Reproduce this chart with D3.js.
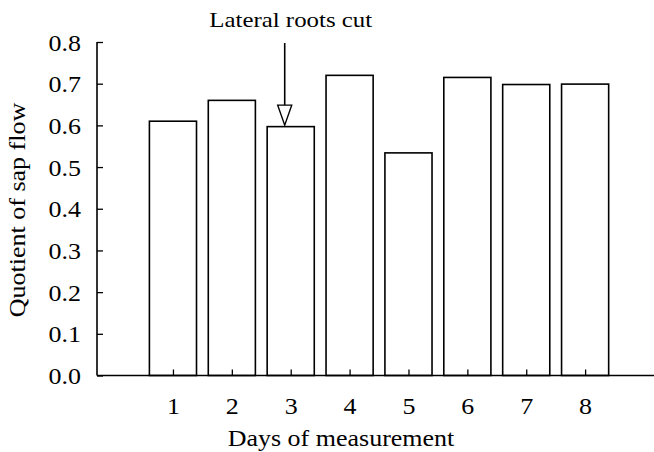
<!DOCTYPE html>
<html>
<head>
<meta charset="utf-8">
<script src="https://cdn.jsdelivr.net/npm/d3@7"></script>
<style>
    html, body { margin: 0; padding: 0; background: #fff; }
    svg text { font-family: "Liberation Serif", "Times New Roman", serif; fill: #000; }
</style>
</head>
<body>
<svg id="chart" width="654" height="452"></svg>
<script>
var days = [1, 2, 3, 4, 5, 6, 7, 8];
var quotients = [0.61, 0.66, 0.597, 0.72, 0.534, 0.715, 0.698, 0.699];
var yTicks = [0, 0.1, 0.2, 0.3, 0.4, 0.5, 0.6, 0.7, 0.8];
var cutDay = 3;
var cutLabel = "Lateral roots cut";

var svg = d3.select("#chart");

var plotLeft = 97, plotRight = 654, plotTop = 42, plotBottom = 375.5;
var stretch = 1.13; // the reference type is wider than Liberation Serif

var x = d3.scaleLinear().domain([-0.29, 9.17]).range([plotLeft, plotRight]);
var y = d3.scaleLinear().domain([0, 0.8]).range([plotBottom, plotTop]);
var barWidth = (x(1) - x(0)) * 0.8;

// bars
svg.append("g")
    .selectAll("rect")
    .data(days)
    .enter().append("rect")
    .attr("x", function(d) { return x(d) - barWidth / 2; })
    .attr("y", function(d, i) { return y(quotients[i]); })
    .attr("width", barWidth)
    .attr("height", function(d, i) { return plotBottom - y(quotients[i]); })
    .attr("fill", "#fff")
    .attr("stroke", "#000")
    .attr("stroke-width", 1.6);

// y axis
var yAxis = svg.append("g")
    .attr("transform", "translate(" + plotLeft + ",0)")
    .call(d3.axisRight(y).tickValues(yTicks).tickSize(6).tickFormat(d3.format(".1f")));
yAxis.select(".domain").attr("d", "M0," + plotTop + "V" + plotBottom);
yAxis.selectAll("line").attr("stroke-width", 1.3);
yAxis.selectAll("path").attr("stroke-width", 1.6);
yAxis.selectAll("text")
    .attr("x", -16 / stretch)
    .attr("dy", "0.35em")
    .attr("text-anchor", "end")
    .attr("font-size", 23)
    .attr("transform", "scale(" + stretch + ",1)");

// x axis
var xAxis = svg.append("g")
    .attr("transform", "translate(0," + plotBottom + ")")
    .call(d3.axisTop(x).tickValues(days).tickSize(6).tickFormat(d3.format("d")));
xAxis.select(".domain").attr("d", "M" + plotLeft + ",0H" + plotRight);
xAxis.selectAll("line").attr("stroke-width", 1.3);
xAxis.selectAll("path").attr("stroke-width", 1.6);
xAxis.selectAll("text")
    .attr("y", 39)
    .attr("font-size", 23)
    .attr("transform", "scale(" + stretch + ",1)");

// axis titles
svg.append("text")
    .attr("transform", "translate(341,446) scale(" + stretch + ",1)")
    .attr("text-anchor", "middle")
    .attr("font-size", 23)
    .text("Days of measurement");

svg.append("text")
    .attr("transform", "translate(25,210) rotate(-90) scale(" + stretch + ",1)")
    .attr("text-anchor", "middle")
    .attr("font-size", 23)
    .text("Quotient of sap flow");

// annotation arrow
var ax = x(cutDay) - 6;
var tipY = y(quotients[days.indexOf(cutDay)]) - 1.5;
svg.append("line")
    .attr("x1", ax).attr("x2", ax)
    .attr("y1", 43).attr("y2", tipY - 20)
    .attr("stroke", "#000")
    .attr("stroke-width", 1.6);
svg.append("path")
    .attr("d", "M" + (ax - 7) + "," + (tipY - 20) + "L" + (ax + 7) + "," + (tipY - 20) + "L" + ax + "," + tipY + "Z")
    .attr("fill", "#fff")
    .attr("stroke", "#000")
    .attr("stroke-width", 1.4);

svg.append("text")
    .attr("transform", "translate(" + x(cutDay) + ",27) scale(" + stretch + ",1)")
    .attr("text-anchor", "middle")
    .attr("font-size", 22)
    .text(cutLabel);
</script>
</body>
</html>
